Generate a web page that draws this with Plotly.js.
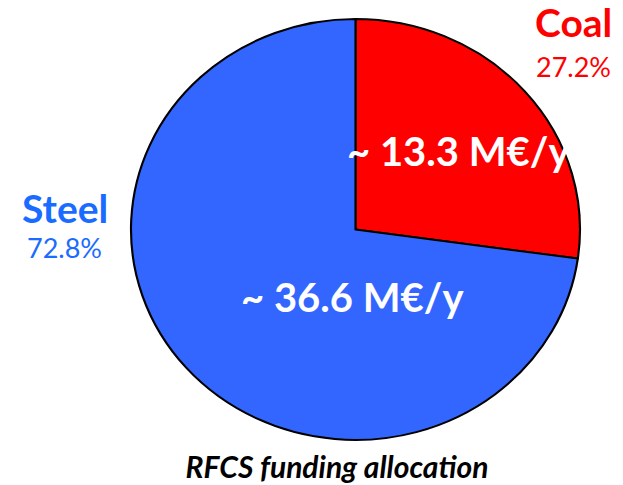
<!DOCTYPE html>
<html>
<head>
<meta charset="utf-8">
<script src="https://cdn.plot.ly/plotly-3.0.1.min.js"></script>
<style>html,body{margin:0;padding:0;background:#fff;}#chart{width:623px;height:485px;}</style>
</head>
<body>
<div id="chart"></div>
<script>
const categories = ["Coal", "Steel"];
const shares = [27.2, 72.8];
const shareLabels = ["27.2%", "72.8%"];
const fundingLabels = ["~ 13.3 M€/y", "~ 36.6 M€/y"];
const sliceColors = ["#FF0000", "#3366FF"];
const nameColors = ["#FF0000", "#1A6BFF"];
const chartTitle = "RFCS funding allocation";

const FONT = "Lato, 'Open Sans', sans-serif";

const trace = {
  type: "pie",
  labels: categories,
  values: shares,
  sort: false,
  direction: "clockwise",
  rotation: 0,
  textinfo: "none",
  hoverinfo: "label+percent",
  marker: { colors: sliceColors, line: { color: "#000000", width: 2 } },
  domain: { x: [0.2327, 0.9085], y: [0.0928, 0.9608] },
  showlegend: false
};

const namePos = [{x: 573/623, y: 1 - 22/485}, {x: 65/623, y: 1 - 208/485}];
const sharePos = [{x: 573/623, y: 1 - 67/485}, {x: 64/623, y: 1 - 248/485}];
const fundPos = [{x: 458/623, y: 1 - 151/485}, {x: 352/623, y: 1 - 297/485}];

const annotations = [];
categories.forEach((c, i) => {
  annotations.push({ text: "<b>" + c + "</b>", x: namePos[i].x, y: namePos[i].y, xref: "paper", yref: "paper",
    showarrow: false, xanchor: "center", yanchor: "middle", font: { family: FONT, size: 39, color: nameColors[i] } });
  annotations.push({ text: shareLabels[i], x: sharePos[i].x, y: sharePos[i].y, xref: "paper", yref: "paper",
    showarrow: false, xanchor: "center", yanchor: "middle", font: { family: FONT, size: 27, color: nameColors[i] } });
  annotations.push({ text: "<b>" + fundingLabels[i] + "</b>", x: fundPos[i].x, y: fundPos[i].y, xref: "paper", yref: "paper",
    showarrow: false, xanchor: "center", yanchor: "middle", font: { family: FONT, size: 40, color: "#FFFFFF" } });
});

const layout = {
  width: 623, height: 485,
  margin: { l: 0, r: 0, t: 0, b: 0 },
  paper_bgcolor: "#FFFFFF",
  title: { text: "<b><i>" + chartTitle + "</i></b>", x: 337/623, xanchor: "center", y: 1 - 467/485, yanchor: "middle",
    font: { family: FONT, size: 30, color: "#000000" } },
  annotations: annotations
};

Plotly.newPlot("chart", [trace], layout, { displayModeBar: false, staticPlot: true }).then(gd => {
  // the reference pie is slightly wider than tall: stretch the pie layer horizontally about its centre
  const cx = 623 * (trace.domain.x[0] + trace.domain.x[1]) / 2;
  const layer = gd.querySelector(".pielayer");
  if (layer) {
    const sx = 224.5 / 210.5;
    layer.setAttribute("transform", `translate(${cx},0) scale(${sx},1) translate(${-cx},0)`);
  }
});
</script>
</body>
</html>
